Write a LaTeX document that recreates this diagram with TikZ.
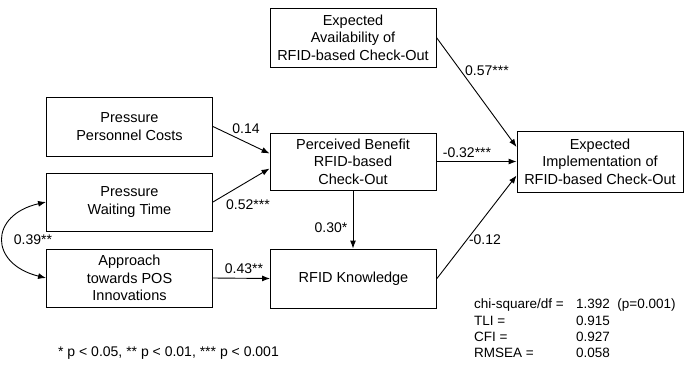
\documentclass[tikz,border=0pt]{standalone}
\usepackage{fontspec}
\setmainfont{Liberation Sans}
\usetikzlibrary{arrows.meta,shadows}
\begin{document}
\begin{tikzpicture}[x=1pt,y=-1pt,
  every node/.style={font=\fontsize{14}{17.5}\selectfont, inner sep=0pt},
  box/.style={draw, fill=white, line width=0.9pt, minimum width=166pt, minimum height=59pt, align=center,
    font=\fontsize{14.5}{17.5}\selectfont,
    drop shadow={shadow xshift=0.9pt, shadow yshift=-0.9pt, opacity=1, fill=black}},
  arr/.style={line width=0.9pt, -{Latex[length=8pt,width=6pt]}},
  lab/.style={fill=white, inner sep=1pt},
  fit/.style={anchor=west, font=\fontsize{13.5}{16}\selectfont}]
\useasboundingbox (0,0) rectangle (689,365);
\node[box] (avail) at (353,37.5) {Expected\\Availability of\\RFID-based Check-Out};
\node[box] (cost) at (129.5,126.5) {Pressure\\Personnel Costs};
\node[box, minimum height=57pt] (benefit) at (353,161.5) {Perceived Benefit\\RFID-based\\Check-Out};
\node[box, minimum height=61pt] (impl) at (600,161.5) {Expected\\Implementation of\\RFID-based Check-Out};
\node[box, minimum height=58pt] (wait) at (129.5,202) {Pressure\\Waiting Time};
\node[box, minimum height=58pt] (appr) at (129.5,278) {Approach\\towards POS\\Innovations};
\node[box] (know) at (353.5,278.5) {RFID Knowledge};

\draw[arr] (cost.east) -- ([yshift=8pt]benefit.west);
\draw[arr] (wait.east) -- ([yshift=-7pt]benefit.west);
\draw[arr] (appr.east) -- (know.west);
\draw[arr] (benefit.south) -- (know.north -| benefit.south);
\draw[arr] (avail.east) -- ([yshift=14.5pt]impl.west);
\draw[arr] (benefit.east) -- (impl.west);
\draw[arr] (know.east) -- ([yshift=-14pt]impl.west);
\draw[arr, {Latex[length=8pt,width=6pt]}-{Latex[length=8pt,width=6pt]}] (wait.west) .. controls +(-57,13) and +(-57,-14) .. (appr.west);

\node (l014) at (246,129) {0.14};
\node (l052) at (248,205) {0.52***};
\node (l030) at (331,228) {0.30*};
\node (l043) at (244,269) {0.43**};
\node[lab] (l039) at (33,240) {0.39**};
\node (l057) at (487,71) {0.57***};
\node (l032) at (467,153) {-0.32***};
\node (l012) at (485,240) {-0.12};

\node (foot) at (168.5,353) {* p < 0.05, ** p < 0.01, *** p < 0.001};

\node[fit] (chi) at (474,305) {chi-square/df =};
\node[fit] (tli) at (474,321) {TLI =};
\node[fit] (cfi) at (474,337) {CFI =};
\node[fit] (rmsea) at (474,353) {RMSEA =};
\node[fit] (vchi) at (576,305) {1.392~~(p=0.001)};
\node[fit] (vtli) at (576,321) {0.915};
\node[fit] (vcfi) at (576,337) {0.927};
\node[fit] (vrmsea) at (576,353) {0.058};
\end{tikzpicture}
\end{document}
